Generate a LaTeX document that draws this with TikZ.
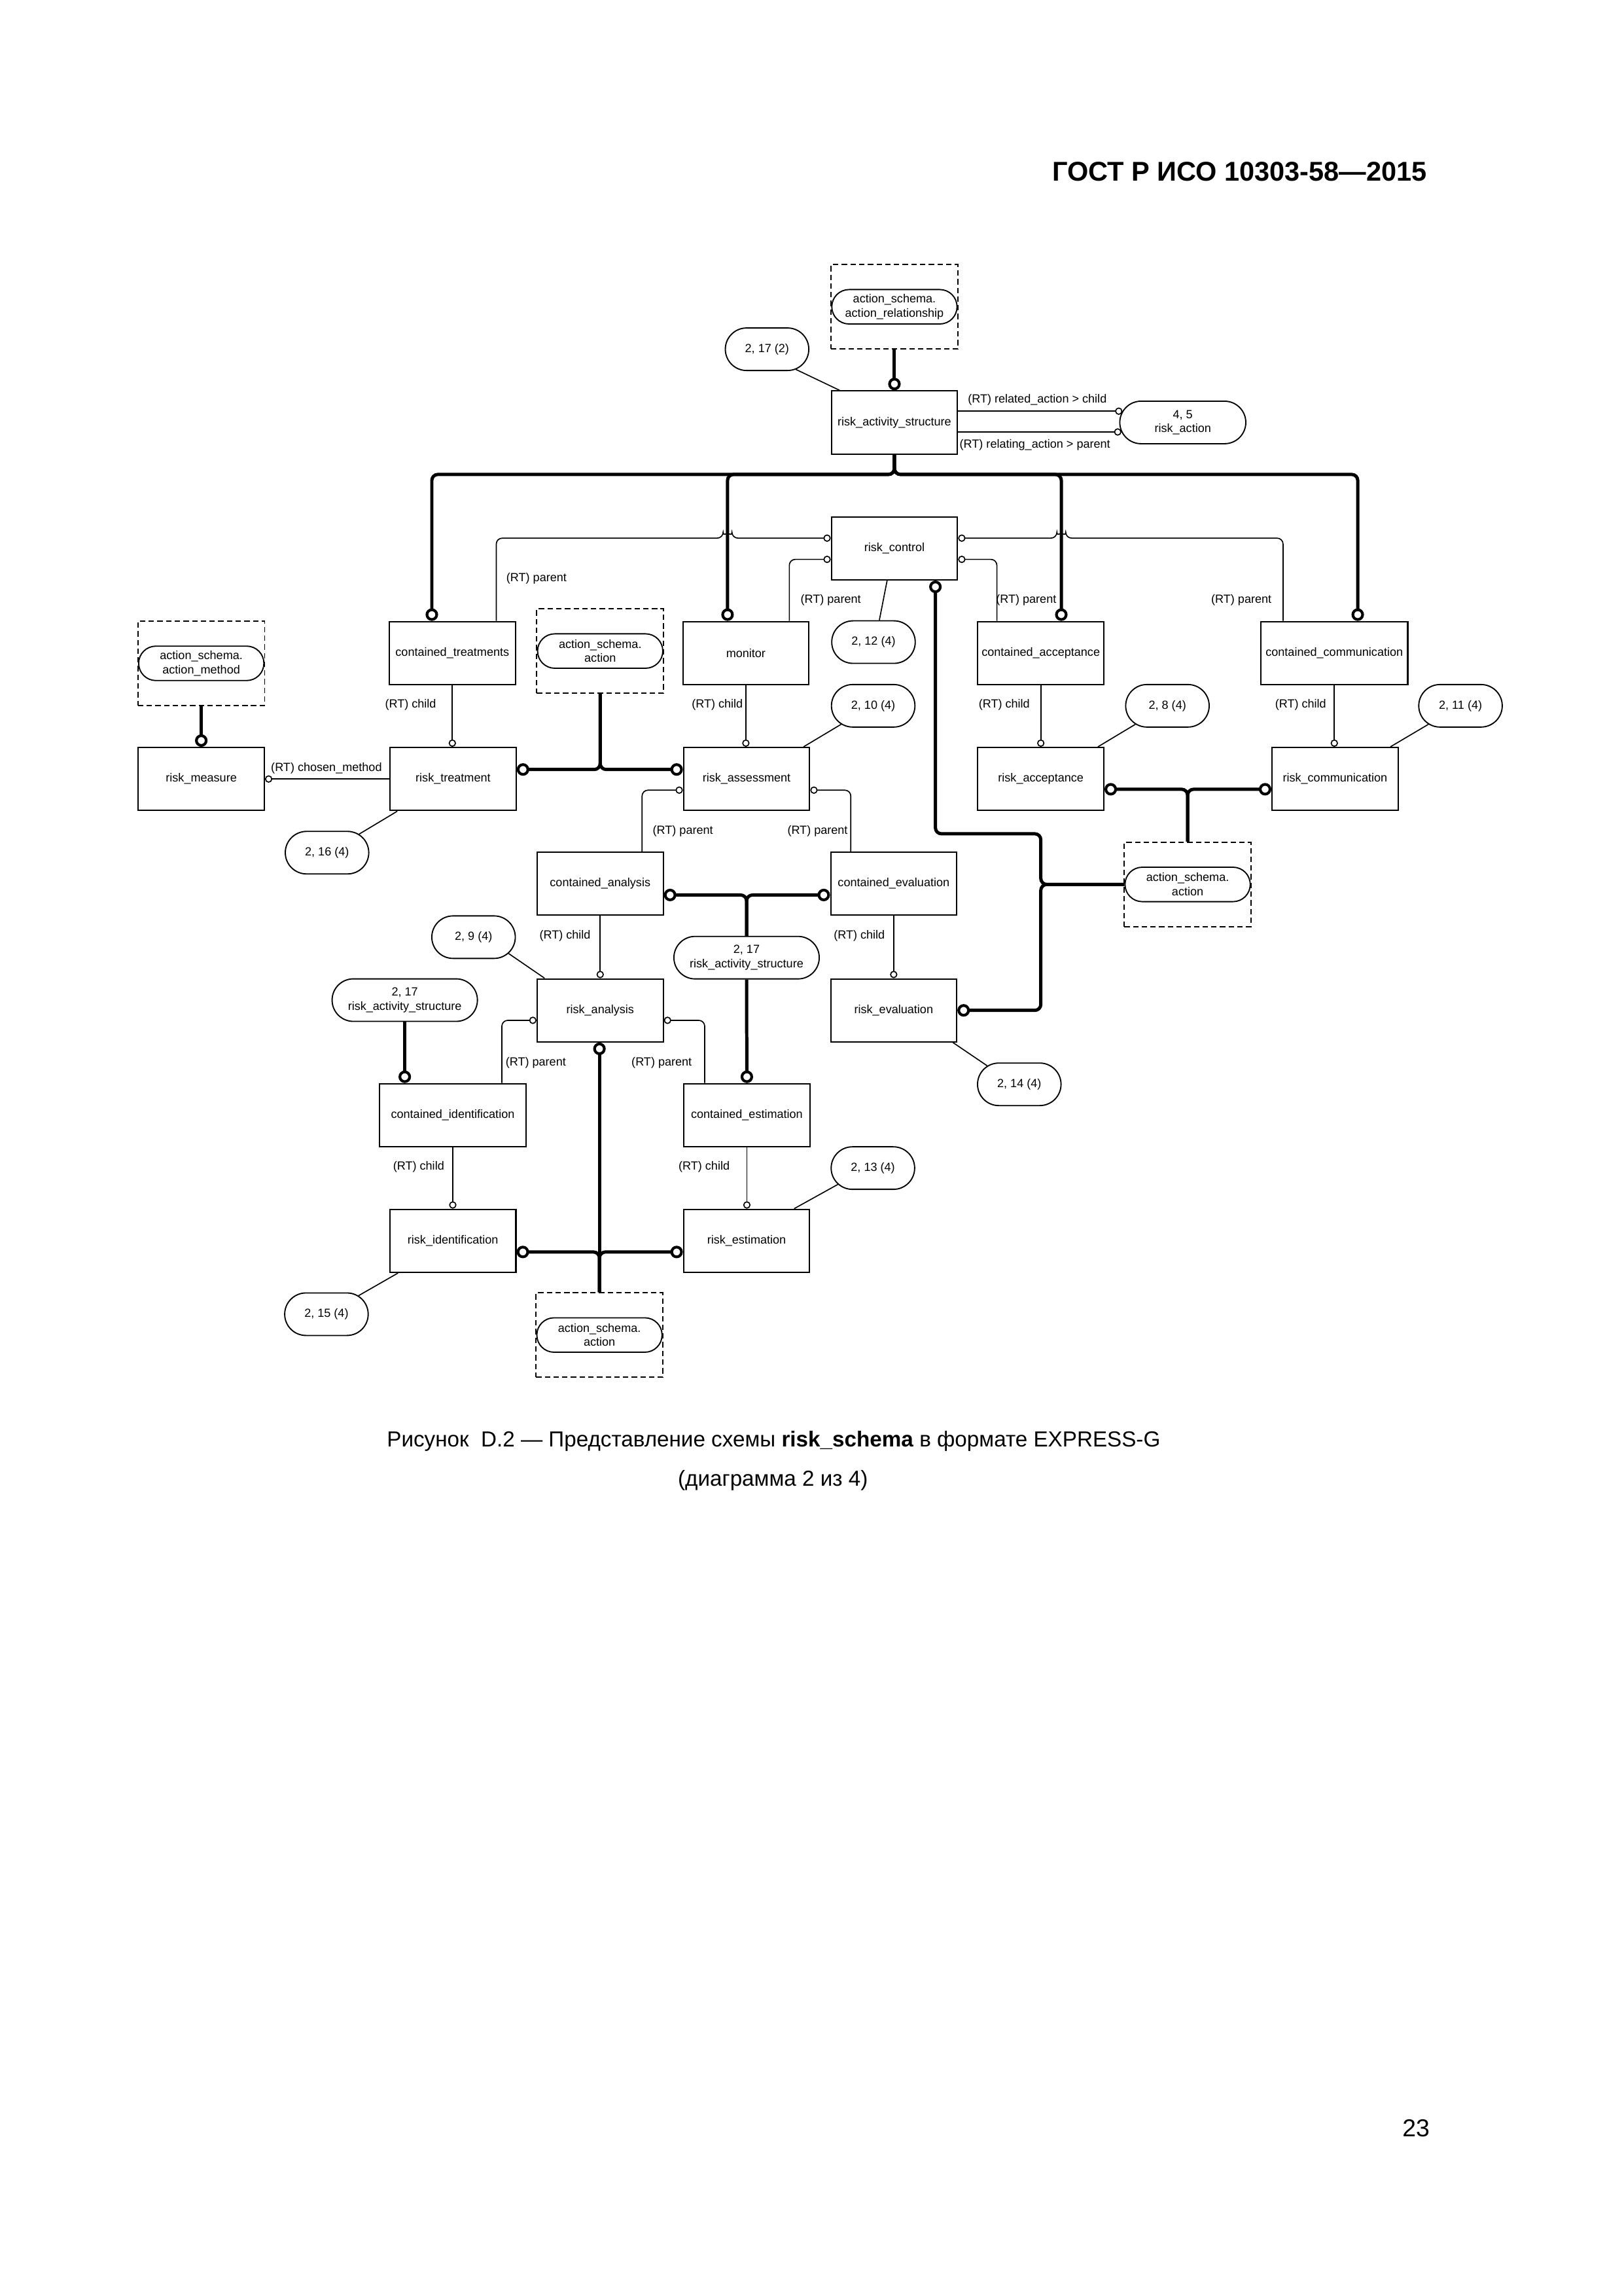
\documentclass[tikz,border=0pt]{standalone}
\usepackage{fontspec}
\setmainfont{Liberation Sans}
\usepackage{tikz}
\usetikzlibrary{positioning, arrows.meta, calc, shapes.misc}
\newcommand{\dgfont}{\fontsize{4.35}{5.2}\selectfont}

\begin{document}
\begin{tikzpicture}[
            x=0.018936cm, y=-0.018936cm, % page units, y down
            entity/.style={rectangle, draw, line width=0.5pt, minimum width=1.63cm, minimum height=0.815cm, inner sep=0pt, font=\dgfont},
            wide/.style={entity, minimum width=1.9cm},
            pageref/.style={rounded rectangle, draw, line width=0.45pt, minimum width=1.08cm, minimum height=0.55cm, inner sep=0pt, align=center, font=\dgfont},
            extbox/.style={rectangle, draw, dash pattern=on 2pt off 1.2pt, line width=0.45pt, minimum width=1.64cm, minimum height=1.09cm, inner sep=0pt},
            extname/.style={rounded rectangle, draw, line width=0.45pt, minimum width=1.62cm, minimum height=0.445cm, inner sep=0pt, align=center, font=\dgfont},
            sub/.style={line width=1.2pt, rounded corners=2.2pt, -{Circle[open, length=4.6pt, width=4.6pt, line width=1pt]}},
            attr/.style={line width=0.4pt, rounded corners=2.2pt, -{Circle[open, length=2.7pt, width=2.7pt, line width=0.4pt]}},
            reft/.style={line width=0.4pt},
            lbl/.style={font=\dgfont, inner sep=0pt}
        ]
            \useasboundingbox (0,0) rectangle (1109,1568);

            \node[font=\bfseries\fontsize{10}{12}\selectfont, anchor=base east, inner sep=0pt] (hdr) at (975,123.5) {ГОСТ Р ИСО 10303-58—2015};

            % entities
            \node[entity] (ras) at (611,288.5) {risk\_activity\_structure};
            \node[entity] (rctl) at (611,374.5) {risk\_control};
            \node[entity] (ctreat) at (309,446) {contained\_treatments};
            \node[entity] (mon) at (509.5,446) {monitor};
            \node[entity] (cacc) at (711,446) {contained\_acceptance};
            \node[wide] (ccomm) at (911.5,446) {contained\_communication};
            \node[entity] (rmeas) at (137.5,532) {risk\_measure};
            \node[entity] (rtreat) at (309.5,532) {risk\_treatment};
            \node[entity] (rass) at (510,532) {risk\_assessment};
            \node[entity] (racc) at (711,532) {risk\_acceptance};
            \node[entity] (rcomm) at (912,532) {risk\_communication};
            \node[entity] (can) at (410,603.5) {contained\_analysis};
            \node[entity] (cev) at (610.5,603.5) {contained\_evaluation};
            \node[entity] (ran) at (410,690) {risk\_analysis};
            \node[entity] (rev) at (610.5,690) {risk\_evaluation};
            \node[wide] (cid) at (309.3,761.6) {contained\_identification};
            \node[entity] (cest) at (510.2,761.6) {contained\_estimation};
            \node[entity] (rid) at (309.4,847.4) {risk\_identification};
            \node[entity] (rest) at (510,847.4) {risk\_estimation};

            % references to action_schema
            \node[extbox] (xrel) at (611,209.5) {};
            \node[extname] (xrelp) at (xrel) {action\_schema.\\action\_relationship};
            \node[extbox] (xmeth) at (137.5,453) {};
            \node[extname] (xmethp) at (xmeth) {action\_schema.\\action\_method};
            \node[extbox] (xact1) at (410,444.6) {};
            \node[extname] (xact1p) at (xact1) {action\_schema.\\action};
            \node[extbox] (xact2) at (811.3,604) {};
            \node[extname] (xact2p) at (xact2) {action\_schema.\\action};
            \node[extbox] (xact3) at (409.5,911.7) {};
            \node[extname] (xact3p) at (xact3) {action\_schema.\\action};

            % page references
            \node[pageref] (p217a) at (524,238.5) {2, 17 (2)};
            \node[pageref, minimum width=1.63cm] (pract) at (808,288.5) {4, 5\\risk\_action};
            \node[pageref] (p212) at (596.7,438.5) {2, 12 (4)};
            \node[pageref] (p210) at (596.5,482) {2, 10 (4)};
            \node[pageref] (p28) at (797.5,482) {2, 8 (4)};
            \node[pageref] (p211) at (997.7,482) {2, 11 (4)};
            \node[pageref] (p216) at (223.4,582.3) {2, 16 (4)};
            \node[pageref] (p29) at (323.5,640) {2, 9 (4)};
            \node[pageref, minimum width=1.88cm] (p217b) at (510,654) {2, 17\\risk\_activity\_structure};
            \node[pageref, minimum width=1.88cm] (p217c) at (276.5,683) {2, 17\\risk\_activity\_structure};
            \node[pageref] (p214) at (696.3,740.5) {2, 14 (4)};
            \node[pageref] (p213) at (596.3,797.7) {2, 13 (4)};
            \node[pageref] (p215) at (223,897.5) {2, 15 (4)};

            % subtype trees
            \coordinate (jtop) at (611,324);
            \coordinate (jact) at (711,604);
            \coordinate (kact) at (711,569.4);
            \draw[sub] (xrel.south) -- (ras.north);
            \draw[sub] (ras.south) -- (jtop) -| ($(ctreat.north)+(-14,0)$);
            \draw[sub] (ras.south) -- (jtop) -| ($(mon.north)+(-12.5,0)$);
            \draw[sub] (ras.south) -- (jtop) -| ($(cacc.north)+(14,0)$);
            \draw[sub] (ras.south) -- (jtop) -| ($(ccomm.north)+(16,0)$);
            \draw[sub] (xmeth.south) -- (rmeas.north);
            \draw[sub] (xact1.south) |- ($(rtreat.east)+(0,-6.5)$);
            \draw[sub] (xact1.south) |- ($(rass.west)+(0,-6.5)$);
            \draw[sub] (xact2p.west) -- (jact) -- (kact) -| ($(rctl.south)+(28,0)$);
            \draw[sub] (xact2p.west) -- (jact) |- (rev.east);
            \draw[sub] (xact2.north) |- ($(racc.east)+(0,7)$);
            \draw[sub] (xact2.north) |- ($(rcomm.west)+(0,7)$);
            \draw[sub] (p217b.north) |- ($(can.east)+(0,7.7)$);
            \draw[sub] (p217b.north) |- ($(cev.west)+(0,7.7)$);
            \draw[sub] (p217b.south) -- (cest.north);
            \draw[sub] (p217c.south) -- (p217c.south |- cid.north);
            \draw[sub] (xact3.north) -- (xact3.north |- ran.south);
            \draw[sub] (xact3.north) |- ($(rid.east)+(0,7.6)$);
            \draw[sub] (xact3.north) |- ($(rest.west)+(0,7.6)$);

            % attributes
            \coordinate (hopL) at (497,367.5);
            \coordinate (hopR) at (725,367.5);
            \draw[attr] ($(ras.east)+(0,-7.7)$) -- ($(pract.west)+(2.2,-7.7)$);
            \draw[attr] ($(ras.east)+(0,6.5)$) -- ($(pract.west)+(1.5,6.5)$);
            \draw[attr] ($(ctreat.north)+(30,0)$) |- ($(hopL)+(-3,0)$) arc[start angle=180, end angle=360, radius=3] -- ($(rctl.west)+(0,-7)$);
            \draw[attr] ($(mon.north)+(29.7,0)$) |- ($(rctl.west)+(0,7.5)$);
            \draw[attr] ($(cacc.north)+(-30,0)$) |- ($(rctl.east)+(0,7.5)$);
            \draw[attr] ($(ccomm.north)+(-35,0)$) |- ($(hopR)+(3,0)$) arc[start angle=0, end angle=-180, radius=3] -- ($(rctl.east)+(0,-7)$);
            \draw[attr] (ctreat.south) -- (ctreat.south |- rtreat.north);
            \draw[attr] (mon.south) -- (mon.south |- rass.north);
            \draw[attr] (cacc.south) -- (racc.north);
            \draw[attr] (ccomm.south) -- (ccomm.south |- rcomm.north);
            \draw[attr] (rtreat.west) -- (rmeas.east);
            \draw[attr] ($(can.north)+(28.6,0)$) |- ($(rass.west)+(0,7.6)$);
            \draw[attr] ($(cev.north)+(-29.3,0)$) |- ($(rass.east)+(0,7.6)$);
            \draw[attr] (can.south) -- (ran.north);
            \draw[attr] (cev.south) -- (rev.north);
            \draw[attr] ($(cid.north)+(33.5,0)$) |- ($(ran.west)+(0,6.8)$);
            \draw[attr] ($(cest.north)+(-28.8,0)$) |- ($(ran.east)+(0,6.8)$);
            \draw[attr] (cid.south) -- (cid.south |- rid.north);
            \draw[attr] (cest.south) -- (cest.south |- rest.north);

            % page reference leaders
            \draw[reft] (p217a.-35) -- ($(ras.north west)+(6,0)$);
            \draw[reft] ($(p212.north)+(4,0)$) -- ($(rctl.south)+(-5,0)$);
            \draw[reft] (p210.210) -- ($(rass.north east)+(-4.6,0)$);
            \draw[reft] (p28.210) -- ($(racc.north east)+(-4.5,0)$);
            \draw[reft] (p211.210) -- ($(rcomm.north east)+(-5.7,0)$);
            \draw[reft] (p216.30) -- ($(rtreat.south west)+(5.4,0)$);
            \draw[reft] (p29.-25) -- ($(ran.north west)+(5.5,0)$);
            \draw[reft] (p214.150) -- ($(rev.south east)+(-3,0)$);
            \draw[reft] (p213.205) -- ($(rest.north east)+(-11,0)$);
            \draw[reft] (p215.30) -- ($(rid.south west)+(6,0)$);

            % role labels
            \node[lbl] (t1) at (708.6,272.8) {(RT) related\_action > child};
            \node[lbl] (t2) at (707,304) {(RT) relating\_action > parent};
            \node[lbl] (t3) at (366.5,395) {(RT) parent};
            \node[lbl] (t4) at (567.5,410) {(RT) parent};
            \node[lbl] (t5) at (701,410) {(RT) parent};
            \node[lbl] (t6) at (848,410) {(RT) parent};
            \node[lbl] (t7) at (280.5,481.5) {(RT) child};
            \node[lbl] (t8) at (490,481.5) {(RT) child};
            \node[lbl] (t9) at (686,481.5) {(RT) child};
            \node[lbl] (t10) at (888.5,481.5) {(RT) child};
            \node[lbl] (t11) at (223,524.7) {(RT) chosen\_method};
            \node[lbl] (t12) at (466.5,567.5) {(RT) parent};
            \node[lbl] (t13) at (558.5,567.5) {(RT) parent};
            \node[lbl] (t14) at (386,639) {(RT) child};
            \node[lbl] (t15) at (587,639) {(RT) child};
            \node[lbl] (t16) at (366,725.6) {(RT) parent};
            \node[lbl] (t17) at (452,725.6) {(RT) parent};
            \node[lbl] (t18) at (286,797) {(RT) child};
            \node[lbl] (t19) at (481,797) {(RT) child};

            \node[font=\fontsize{8}{10}\selectfont, anchor=base, inner sep=0pt] (cap1) at (528.5,988) {Рисунок\ \ D.2 — Представление схемы \textbf{risk\_schema} в формате EXPRESS-G};
            \node[font=\fontsize{8}{10}\selectfont, anchor=base, inner sep=0pt] (cap2) at (528,1015) {(диаграмма 2 из 4)};
            \node[font=\fontsize{9}{11}\selectfont, anchor=base east, inner sep=0pt] (pg) at (977,1459) {23};
        \end{tikzpicture}
\end{document}
